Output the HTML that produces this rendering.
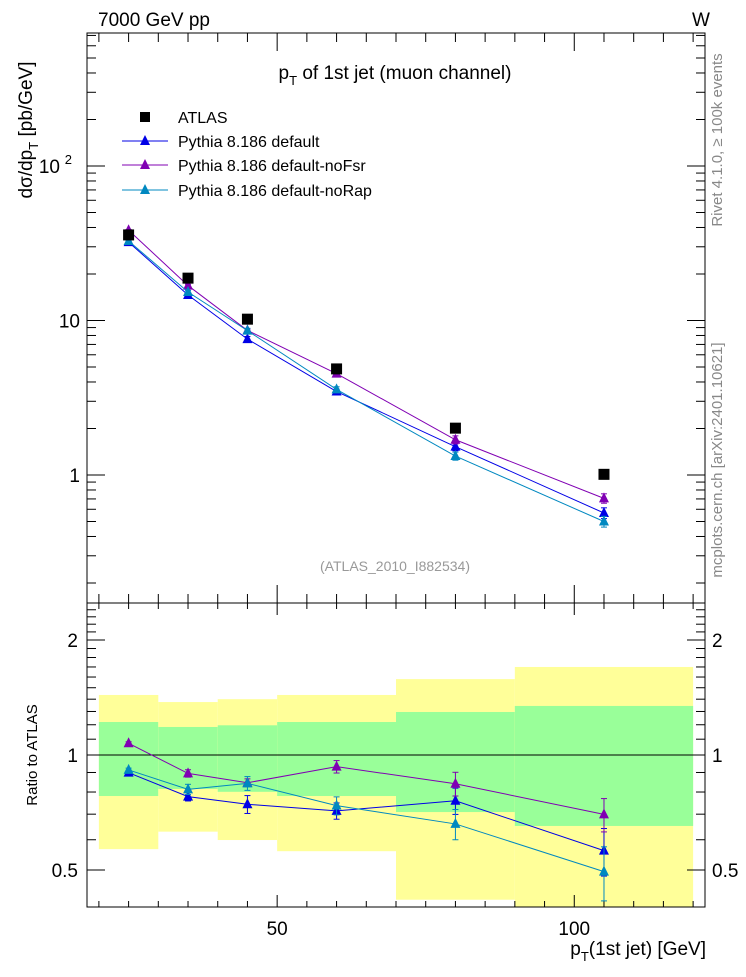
<!DOCTYPE html>
<html><head><meta charset="utf-8"><style>
body{margin:0;background:#fff}
svg{font-family:"Liberation Sans",sans-serif}
</style></head><body>
<svg id="c" width="746" height="972" xmlns="http://www.w3.org/2000/svg"></svg>
<script>
const binEdges=[20,30,40,50,70,90,120];
const xCenters=[25,35,45,60,80,105];
const atlas=[35.8,18.8,10.2,4.86,2.01,1.01];
const ratioDefault=[0.899,0.778,0.743,0.714,0.759,0.562];
const ratioNoFsr=[1.073,0.895,0.846,0.932,0.841,0.699];
const ratioNoRap=[0.914,0.813,0.843,0.737,0.66,0.495];
const errDefault=[0.01,0.02,0.04,0.035,0.06,0.08];
const errNoFsr=[0.01,0.02,0.02,0.035,0.06,0.07];
const errNoRap=[0.01,0.025,0.035,0.04,0.06,0.08];
const greenHi=[1.22,1.184,1.196,1.22,1.296,1.344];
const greenLo=[0.781,0.815,0.801,0.781,0.709,0.652];
const yellowHi=[1.436,1.376,1.40,1.436,1.58,1.70];
const yellowLo=[0.567,0.63,0.599,0.56,0.418,0.35];
const xTicks=[50,100];
const mainTicks=[{v:100,t:"10",s:"2"},{v:10,t:"10"},{v:1,t:"1"}];
const ratioTicks=[2,1,0.5];

const L=87,R=705,T=33,M=603,B=907;
const X=v=>L+(v-18)*(R-L)/104;
const YM=v=>475-154.5*Math.log10(v);
const YR=v=>755-382*Math.log10(v);
const svg=document.getElementById('c');
const NS="http://www.w3.org/2000/svg";
function el(tag,attrs,parent){const e=document.createElementNS(NS,tag);for(const k in attrs)e.setAttribute(k,attrs[k]);(parent||svg).appendChild(e);return e;}
function line(x1,y1,x2,y2,col,w,p){return el('line',{x1,y1,x2,y2,stroke:col||'#000','stroke-width':w||1},p);}

const gB=el('g',{});


for(let i=0;i<6;i++){
  const x1=X(binEdges[i]),x2=X(binEdges[i+1]);
  const y=el('rect',{x:x1,y:YR(yellowHi[i]),width:x2-x1,height:Math.min(B,YR(yellowLo[i]))-YR(yellowHi[i]),fill:'#ffff99'},gB);
  
  
  const g=el('rect',{x:x1,y:YR(greenHi[i]),width:x2-x1,height:YR(greenLo[i])-YR(greenHi[i]),fill:'#99ff99'},gB);
  
  
}
line(L,755,R,755,'#000',1);

el('rect',{x:L,y:T,width:R-L,height:M-T,fill:'none',stroke:'#000','stroke-width':1});
el('rect',{x:L,y:M,width:R-L,height:B-M,fill:'none',stroke:'#000','stroke-width':1});

for(let v=20;v<=120;v+=5){
  const x=X(v),maj=v%50==0,len=maj?18:9;
  line(x,T,x,T+len);line(x,M,x,M-len);line(x,M,x,M+len/1.5);line(x,B,x,B-len/1.5);
}
xTicks.forEach(v=>{const t=el('text',{x:X(v),y:935,'font-size':19,'text-anchor':'middle'});t.textContent=v;

});

for(let d=-1;d<=2;d++)for(let k=1;k<10;k++){
  const v=k*Math.pow(10,d);const y=YM(v);if(y<T||y>M)continue;
  const len=k==1?18:9;line(L,y,L+len,y);line(R,y,R-len,y);
}
mainTicks.forEach(o=>{
  const t=el('text',{x:o.s?60:80,y:YM(o.v)+7,'font-size':19,'text-anchor':'end'});t.textContent=o.t;
  
  
  if(o.s){const s=el('text',{x:72,y:YM(o.v)-2,'font-size':13,'text-anchor':'end'});s.textContent=o.s;}
});
[0.4,0.5,0.6,0.7,0.8,0.9,1,1.1,1.2,1.3,1.4,1.5,1.6,1.7,1.8,1.9,2,2.1,2.2,2.3,2.4].forEach(v=>{
  const y=YR(v),maj=ratioTicks.includes(v),len=maj?18:9;line(L,y,L+len,y);line(R,y,R-len,y);
});
ratioTicks.forEach(v=>{
  const a=el('text',{x:78,y:YR(v)+7,'font-size':19,'text-anchor':'end'});a.textContent=v;
  
  
  const b=el('text',{x:712,y:YR(v)+7,'font-size':19});b.textContent=v;
  
  
});

function tri(x,y,col,p){return el('polygon',{points:`${x-5},${y+4} ${x+5},${y+4} ${x},${y-6}`,fill:col},p);}
const series=[
 {name:'pythia-default',col:'#0000e6',r:ratioDefault,e:errDefault},
 {name:'pythia-nofsr',col:'#8000b3',r:ratioNoFsr,e:errNoFsr},
 {name:'pythia-norap',col:'#0088c0',r:ratioNoRap,e:errNoRap}];
series.forEach(s=>{
  const g=el('g',{});
  
  
  const mv=s.r.map((r,i)=>r*atlas[i]);
  el('polyline',{points:xCenters.map((x,i)=>X(x)+','+YM(mv[i])).join(' '),fill:'none',stroke:s.col,'stroke-width':1},g);
  el('polyline',{points:xCenters.map((x,i)=>X(x)+','+YR(s.r[i])).join(' '),fill:'none',stroke:s.col,'stroke-width':1},g);
  xCenters.forEach((xv,i)=>{
    const x=X(xv);
    const m1=YM(mv[i]*(1+s.e[i])),m2=YM(mv[i]*(1-s.e[i]));
    line(x,m1,x,m2,s.col,1,g);line(x-3,m1,x+3,m1,s.col,1,g);line(x-3,m2,x+3,m2,s.col,1,g);
    const pm=tri(x,YM(mv[i]),s.col,g);
    
    
    const r1=YR(s.r[i]+s.e[i]),r2=YR(s.r[i]-s.e[i]);
    line(x,r1,x,r2,s.col,1,g);line(x-3,r1,x+3,r1,s.col,1,g);line(x-3,r2,x+3,r2,s.col,1,g);
    const pr=tri(x,YR(s.r[i]),s.col,g);
    
    
  });
});
const gA=el('g',{});


xCenters.forEach((xv,i)=>{
  const r=el('rect',{x:X(xv)-5.5,y:YM(atlas[i])-5.5,width:11,height:11,fill:'#000'},gA);
  
  
});

const gL=el('g',{});


el('rect',{x:140,y:112,width:10,height:10,fill:'#000'},gL);
const lt=[['ATLAS',117,null],['Pythia 8.186 default',141,'#0000e6'],['Pythia 8.186 default-noFsr',165,'#8000b3'],['Pythia 8.186 default-noRap',190,'#0088c0']];
lt.forEach(o=>{
  if(o[2]){line(122,o[1],168,o[1],o[2],1,gL);tri(145,o[1],o[2],gL);}
  const t=el('text',{x:178,y:o[1]+6,'font-size':16},gL);t.textContent=o[0];
  
  
});
</script>
<svg width="746" height="972" style="position:absolute;left:0;top:0" xmlns="http://www.w3.org/2000/svg">
<text x="98" y="26" font-size="19" font-family="Liberation Sans,sans-serif">7000 GeV pp</text>
<text x="692" y="26" font-size="19" font-family="Liberation Sans,sans-serif">W</text>
<text x="395" y="79" font-size="19" text-anchor="middle" font-family="Liberation Sans,sans-serif">p<tspan font-size="13" dy="6">T</tspan><tspan dy="-6"> of 1st jet (muon channel)</tspan></text>
<text transform="translate(32,130) rotate(-90)" font-size="19" text-anchor="middle" font-family="Liberation Sans,sans-serif">dσ/dp<tspan font-size="13" dy="6">T</tspan><tspan dy="-6"> [pb/GeV]</tspan></text>
<text transform="translate(37,755) rotate(-90)" font-size="15" text-anchor="middle" font-family="Liberation Sans,sans-serif">Ratio to ATLAS</text>
<text x="706" y="955" font-size="19" text-anchor="end" font-family="Liberation Sans,sans-serif">p<tspan font-size="13" dy="6">T</tspan><tspan dy="-6">(1st jet) [GeV]</tspan></text>
<text x="395" y="571" font-size="14" fill="#999" text-anchor="middle" font-family="Liberation Sans,sans-serif">(ATLAS_2010_I882534)</text>
<text transform="translate(722,140) rotate(-90)" font-size="15" fill="#888" text-anchor="middle" font-family="Liberation Sans,DejaVu Sans,sans-serif">Rivet 4.1.0, ≥ 100k events</text>
<text transform="translate(722,460) rotate(-90)" font-size="15" fill="#888" text-anchor="middle" font-family="Liberation Sans,sans-serif">mcplots.cern.ch [arXiv:2401.10621]</text>
</svg>
</body></html>
